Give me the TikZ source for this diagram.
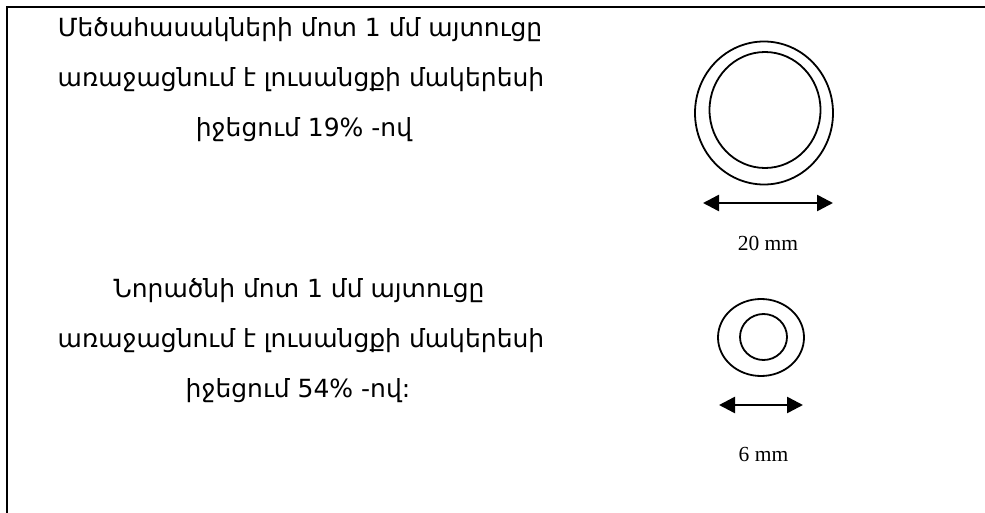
\documentclass[tikz,border=0pt]{standalone}
\usepackage{fontspec}
\setmainfont{Liberation Serif}
\newfontfamily\armfont{DejaVu Sans}
\usetikzlibrary{arrows.meta,shapes.geometric}
\tikzset{
  armtext/.style={anchor=base, inner sep=0pt, font=\armfont\fontsize{25}{25}\selectfont},
  mmtext/.style={anchor=base, inner sep=0pt, font=\fontsize{21.5}{21.5}\selectfont},
  ring/.style={draw, ellipse, inner sep=0pt, line width=1.8pt},
  dimarrow/.style={line width=2.5pt, {Triangle[length=16pt,width=16pt]}-{Triangle[length=16pt,width=16pt]}},
  frame/.style={line width=2.6pt}
}
\begin{document}
\begin{tikzpicture}[x=1pt,y=-1pt]
\useasboundingbox (0,0) rectangle (985,513);
\coordinate (fb) at (7,514);
\coordinate (fc) at (7,7);
\coordinate (fr) at (986,7);
\draw[frame] (fb) -- (fc) -- (fr);
% text block 1
\node[armtext] (a1) at (300,37) {Մեծահասակների մոտ 1 մմ այտուցը};
\node[armtext] (a2) at (301,87) {առաջացնում է լուսանցքի մակերեսի};
\node[armtext] (a3) at (304,137) {իջեցում 19\% -ով};
% text block 2
\node[armtext] (b1) at (299,297) {Նորածնի մոտ 1 մմ այտուցը};
\node[armtext] (b2) at (301,347) {առաջացնում է լուսանցքի մակերեսի};
\node[armtext] (b3) at (298,397) {իջեցում 54\% -ով:};
% big ring
\node[ring, minimum width=138pt, minimum height=143pt] (bigout) at (764,113) {};
\node[ring, minimum width=111pt, minimum height=116pt] (bigin) at (765,110) {};
\coordinate (bl) at (703,203);
\coordinate (br) at (833,203);
\draw[dimarrow] (bl) -- (br);
\node[mmtext] (l20) at (768,251) {20 mm};
% small ring
\node[ring, minimum width=86pt, minimum height=77pt] (smout) at (761,337.5) {};
\node[ring, minimum width=47pt, minimum height=46pt] (smin) at (763.5,337) {};
\coordinate (sl) at (719,405);
\coordinate (sr) at (803,405);
\draw[dimarrow] (sl) -- (sr);
\node[mmtext] (l6) at (763.5,461) {6 mm};
\end{tikzpicture}
\end{document}
